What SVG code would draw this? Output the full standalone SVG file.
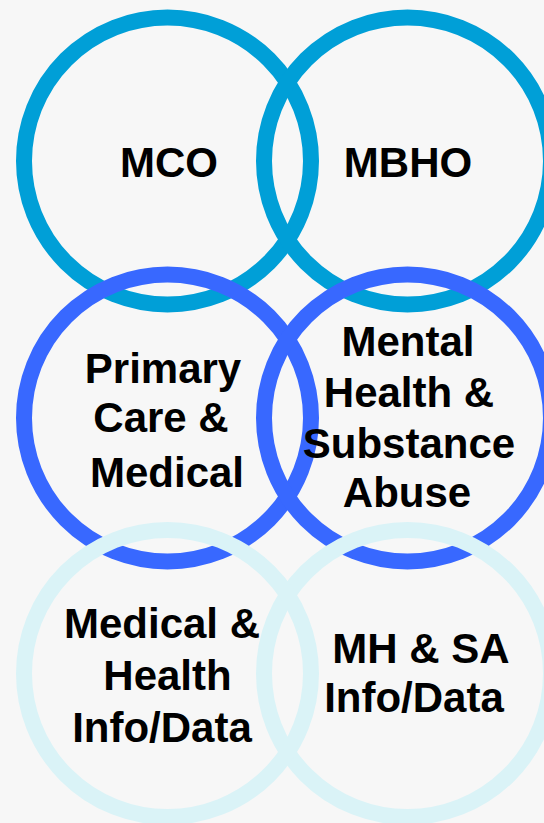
<svg xmlns="http://www.w3.org/2000/svg" width="544" height="823" viewBox="0 0 544 823">
  <style>
    .ring { fill: none; stroke-width: 16; }
    .r1 { stroke: #009FD7; }
    .r2 { stroke: #3868FF; }
    .r3 { stroke: #DAF3F7; }
    .label { font-family: "Liberation Sans", Arial, sans-serif; font-weight: bold; font-size: 42px; fill: #000; text-anchor: middle; }
  </style>
  <rect width="544" height="823" fill="#F7F7F7"/>

  <!-- top row: organisations -->
  <g id="mco">
    <circle class="ring r1" cx="167.5" cy="161" r="143.5"/>
    <text class="label" x="169" y="177">MCO</text>
  </g>
  <g id="mbho">
    <circle class="ring r1" cx="407.5" cy="161" r="143.5"/>
    <text class="label" x="408" y="177">MBHO</text>
  </g>

  <!-- middle row: care domains -->
  <g id="primary-care">
    <circle class="ring r2" cx="167.5" cy="418" r="143.5"/>
    <text class="label" x="163" y="383">Primary</text>
    <text class="label" x="161" y="432">Care &amp;</text>
    <text class="label" x="167" y="487">Medical</text>
  </g>
  <g id="mental-health">
    <circle class="ring r2" cx="407.5" cy="418" r="143.5"/>
    <text class="label" x="408" y="356">Mental</text>
    <text class="label" x="409" y="407">Health &amp;</text>
    <text class="label" x="409" y="458">Substance</text>
    <text class="label" x="407" y="507">Abuse</text>
  </g>

  <!-- bottom row: information / data -->
  <g id="mh-sa-data">
    <circle class="ring r3" cx="407.5" cy="673.5" r="143.5"/>
    <text class="label" x="421" y="663">MH &amp; SA</text>
    <text class="label" x="414" y="712">Info/Data</text>
  </g>
  <g id="medical-data">
    <circle class="ring r3" cx="167.5" cy="673.5" r="143.5"/>
    <text class="label" x="162" y="638">Medical &amp;</text>
    <text class="label" x="167.5" y="690">Health</text>
    <text class="label" x="162" y="742">Info/Data</text>
  </g>

  <!-- no connectors in this figure -->
  <g id="connectors"/>
</svg>
